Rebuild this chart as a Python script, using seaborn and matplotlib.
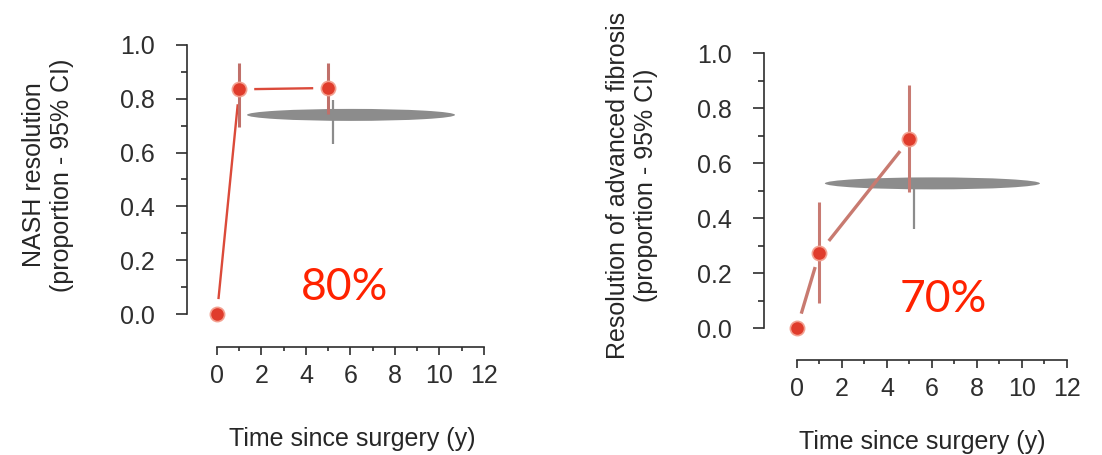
import numpy as np
import pandas as pd
import matplotlib
matplotlib.use("Agg")
import matplotlib.pyplot as plt
import seaborn as sns
from matplotlib.patches import Ellipse
from matplotlib.ticker import MultipleLocator, FormatStrFormatter

# follow-up years
years = [0, 1, 5]

# NASH resolution (proportion, 95% CI)
nash_prop = [0.0, 0.835, 0.84]
nash_ci_low = [np.nan, 0.695, 0.745]
nash_ci_high = [np.nan, 0.933, 0.933]

# resolution of advanced fibrosis (proportion, 95% CI)
fib_prop = [0.0, 0.274, 0.686]
fib_ci_low = [np.nan, 0.09, 0.496]
fib_ci_high = [np.nan, 0.459, 0.884]

# grey reference estimate drawn just right of year 5
ref_year = 5.2
nash_ref_level = 0.74
nash_ref_span = [1.35, 10.7]
nash_ref_ci = [0.63, 0.795]
fib_ref_level = 0.526
fib_ref_span = [1.24, 10.8]
fib_ref_ci = [0.36, 0.538]

nash_text = "80%"
fib_text = "70%"

xticks = [0, 2, 4, 6, 8, 10, 12]
yticks = [0.0, 0.2, 0.4, 0.6, 0.8, 1.0]

sns.set_style("ticks")
plt.rcParams['font.family'] = ['Liberation Sans', 'DejaVu Sans']

AXIS_COL = '#2e2e2e'
POINT_COL = '#E03C2C'
GREY = '#808080'


def gapped_lines(ax, xs, ys, gap_px, **kw):
    # R type="b": segments between points, leaving a gap around each point
    pts = ax.transData.transform(np.column_stack([xs, ys]))
    inv = ax.transData.inverted()
    for p0, p1 in zip(pts[:-1], pts[1:]):
        d = p1 - p0
        n = np.hypot(*d)
        if n <= 2 * gap_px:
            continue
        u = d / n
        a = inv.transform(p0 + u * gap_px)
        b = inv.transform(p1 - u * gap_px)
        ax.plot([a[0], b[0]], [a[1], b[1]], solid_capstyle='butt', **kw)


def draw_panel(ax, df, ref_level, ref_span, ref_ci, ylabel, pct, pct_xy,
               line_col, line_w, bar_col, spine_out, ylab_xy, xlab_xy):
    ax.set_xlim(-0.5, 12.3)
    ax.set_ylim(-0.04, 1.04)

    # grey horizontal band (reference estimate)
    px_per_y = ax.transData.transform((0, 1))[1] - ax.transData.transform((0, 0))[1]
    band_h = 12 / px_per_y
    ax.add_patch(Ellipse(((ref_span[0] + ref_span[1]) / 2, ref_level),
                         ref_span[1] - ref_span[0], band_h,
                         facecolor=GREY, edgecolor='none', alpha=0.9, zorder=2))
    ax.vlines(ref_year, ref_ci[0], ref_ci[1], color='#8c8c8c', lw=1.6, zorder=2.5)

    gapped_lines(ax, df['year'].values, df['prop'].values, 15,
                 color=line_col, lw=line_w, zorder=3)
    ci = df.dropna()
    ax.vlines(ci['year'], ci['low'], ci['high'], color=bar_col, lw=2.2, zorder=3)

    sns.scatterplot(data=df, x='year', y='prop', ax=ax, color=POINT_COL, s=105,
                    edgecolor='#F3A090', linewidth=1.2, zorder=5, legend=False)

    ax.text(pct_xy[0], pct_xy[1], pct, color='#FF2200', fontsize=32,
            family=['Lato', 'DejaVu Sans'], ha='center', va='center')

    sns.despine(ax=ax)
    ax.spines['left'].set_position(('outward', spine_out[0]))
    ax.spines['bottom'].set_position(('outward', spine_out[1]))
    ax.spines['left'].set_bounds(0, 1)
    ax.spines['bottom'].set_bounds(0, 12)
    for s in ('left', 'bottom'):
        ax.spines[s].set_color(AXIS_COL)
        ax.spines[s].set_linewidth(1.2)

    ax.set_xticks(xticks)
    ax.set_yticks(yticks)
    ax.xaxis.set_minor_locator(MultipleLocator(1))
    ax.yaxis.set_minor_locator(MultipleLocator(0.1))
    ax.yaxis.set_major_formatter(FormatStrFormatter('%.1f'))
    ax.tick_params(axis='y', which='major', length=8, width=1.2, color=AXIS_COL,
                   pad=15, labelsize=18, labelcolor=AXIS_COL)
    ax.tick_params(axis='y', which='minor', length=4, width=1.2, color=AXIS_COL)
    ax.tick_params(axis='x', which='major', length=5.5, width=1.2, color=AXIS_COL,
                   pad=7, labelsize=18, labelcolor=AXIS_COL)
    ax.tick_params(axis='x', which='minor', length=3, width=1.2, color=AXIS_COL)

    ax.set_ylabel(ylabel, fontsize=18, color='#262626')
    ax.set_xlabel('Time since surgery (y)', fontsize=18, color='#262626')
    ax.yaxis.set_label_coords(*ylab_xy)
    ax.xaxis.set_label_coords(*xlab_xy)


nash = pd.DataFrame({'year': years, 'prop': nash_prop,
                     'low': nash_ci_low, 'high': nash_ci_high})
fib = pd.DataFrame({'year': years, 'prop': fib_prop,
                    'low': fib_ci_low, 'high': fib_ci_high})

fig = plt.figure(figsize=(11.02, 4.55), dpi=100)
ax1 = fig.add_axes([0.1868, 0.2862, 0.2584, 0.6387])
ax2 = fig.add_axes([0.7130, 0.2549, 0.2613, 0.6527])

draw_panel(ax1, nash, nash_ref_level, nash_ref_span, nash_ref_ci,
           'NASH resolution\n(proportion - 95% CI)', nash_text, (5.75, 0.097),
           '#DB4A3A', 1.7, '#C0706A', (13.6, 16.0), (-0.463, 0.515), (0.513, -0.352))
draw_panel(ax2, fib, fib_ref_level, fib_ref_span, fib_ref_ci,
           'Resolution of advanced fibrosis\n(proportion - 95% CI)', fib_text, (6.49, 0.102),
           '#C87A70', 2.4, '#C87A72', (15.7, 15.1), (-0.444, 0.5185), (0.473, -0.306))

fig.savefig('out.png', dpi=100)
